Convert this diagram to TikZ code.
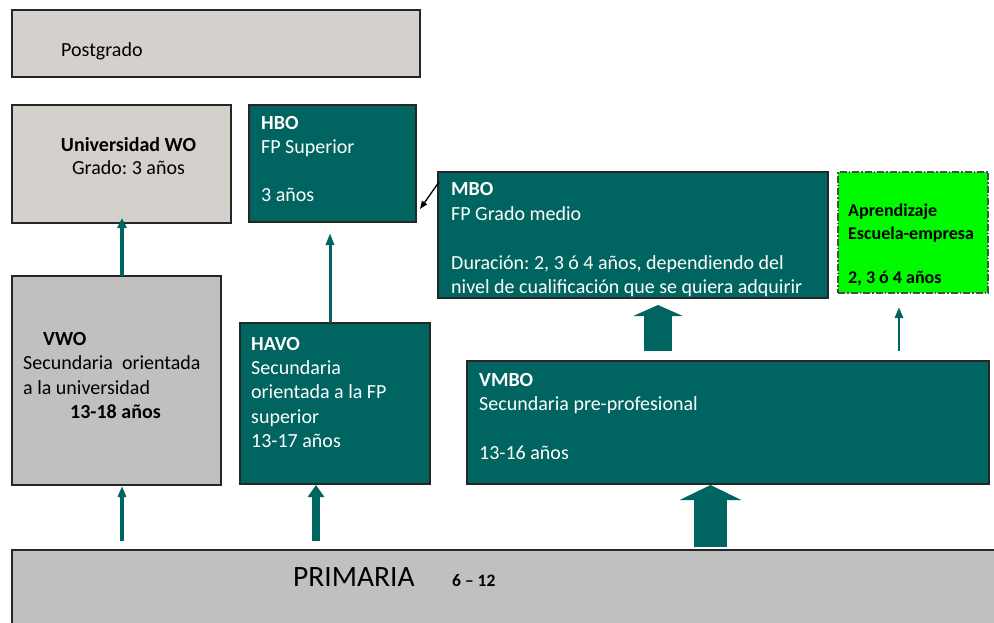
\documentclass[tikz,border=0pt]{standalone}
\usepackage{fontspec}
\setmainfont{Carlito}
\frenchspacing
\usetikzlibrary{arrows.meta}
\definecolor{teal}{RGB}{0,100,97}
\definecolor{lgray}{RGB}{212,208,204}
\definecolor{mgray}{RGB}{192,192,192}
\definecolor{lime}{RGB}{0,250,0}
\tikzset{
  boxbase/.style={draw=black!85, line width=1.1pt, anchor=north west, inner sep=0pt, outer sep=0pt},
  lbox/.style={boxbase, fill=lgray},
  gbox/.style={boxbase, fill=mgray},
  tbox/.style={boxbase, fill=teal},
  abox/.style={boxbase, fill=lime, draw=black!70, dash pattern=on 7pt off 2pt on 1.5pt off 2pt},
  txt/.style={anchor=base west, inner sep=0pt, font=\fontsize{20}{24}\selectfont},
  wtxt/.style={txt, text=white},
  btxt/.style={txt, font=\fontsize{20}{24}\selectfont\bfseries},
  wbtxt/.style={btxt, text=white},
  atxt/.style={anchor=base west, inner sep=0pt, font=\fontsize{18}{21}\selectfont\bfseries},
  thinarrow/.style={draw=teal, line width=3.2pt, -{Triangle[width=9pt,length=10pt]}},
  midarrow/.style={draw=teal, line width=8pt, -{Triangle[width=16pt,length=12pt]}},
}
\begin{document}
\begin{tikzpicture}[x=1pt,y=-1pt]
\useasboundingbox (0,0) rectangle (994,623);
\clip (0,0) rectangle (994,623);
% boxes
\node (pg) [lbox, minimum width=408pt, minimum height=67pt] at (12,10) {};
\node (wo) [lbox, minimum width=219pt, minimum height=118pt] at (12,105) {};
\node (hbo) [tbox, minimum width=167pt, minimum height=117pt] at (249,105) {};
\node (mbo) [tbox, minimum width=390pt, minimum height=126pt] at (438,172) {};
\node (app) [abox, minimum width=150pt, minimum height=121pt] at (838,172) {};
\node (vwo) [gbox, minimum width=209pt, minimum height=209pt] at (12,276) {};
\node (havo) [tbox, minimum width=190pt, minimum height=161pt] at (240,323) {};
\node (vmbo) [tbox, minimum width=522pt, minimum height=123pt] at (467,361) {};
\node (prim) [gbox, minimum width=1000pt, minimum height=90pt] at (12,550) {};
% texts
\node (t1) [txt] at (61,57) {Postgrado};
\node (t2) [btxt, anchor=base] at (128.5,152) {Universidad WO};
\node (t3) [txt, anchor=base] at (128.5,175) {Grado: 3 años};
\node (t4) [wbtxt] at (261,130) {HBO};
\node (t5) [wtxt] at (261,154) {FP Superior};
\node (t6) [wtxt] at (261,202) {3 años};
\node (t7) [wbtxt] at (451,196) {MBO};
\node (t8) [wtxt] at (451,220) {FP Grado medio};
\node (t9) [wtxt] at (451,269) {Duración: 2, 3 ó 4 años, dependiendo del};
\node (t10) [wtxt] at (451,293) {nivel de cualificación que se quiera adquirir};
\node (t11) [atxt] at (848,217) {Aprendizaje};
\node (t12) [atxt] at (848,239) {Escuela-empresa};
\node (t13) [atxt] at (848,283) {2, 3 ó 4 años};
\node (t14) [btxt] at (43,345) {VWO};
\node (t15) [txt] at (23,369) {Secundaria\ \ orientada};
\node (t16) [txt] at (23,394) {a la universidad};
\node (t17) [btxt] at (70,418) {13-18 años};
\node (t18) [wbtxt] at (251,350) {HAVO};
\node (t19) [wtxt] at (251,374) {Secundaria};
\node (t20) [wtxt] at (251,398) {orientada a la FP};
\node (t21) [wtxt] at (251,423) {superior};
\node (t22) [wtxt] at (251,447) {13-17 años};
\node (t23) [wbtxt] at (479,386) {VMBO};
\node (t24) [wtxt] at (479,410) {Secundaria pre-profesional};
\node (t25) [wtxt] at (479,459) {13-16 años};
\node (t26) [anchor=base west, inner sep=0pt, font=\fontsize{29.5}{34}\selectfont] at (293,586) {PRIMARIA};
\node (t27) [anchor=base west, inner sep=0pt, font=\fontsize{17.5}{20}\selectfont\bfseries] at (452,586) {6 – 12};
% connector end points
\coordinate (a1s) at (122,276);
\coordinate (a1e) at (122,218);
\coordinate (a2s) at (122,541);
\coordinate (a2e) at (122,486);
\coordinate (a3s) at (316,541);
\coordinate (a3e) at (316,485);
\coordinate (a4s) at (330,323);
\coordinate (a4e) at (330,233);
\coordinate (a5s) at (899,351);
\coordinate (a5e) at (899,307);
\coordinate (a6s) at (658,351);
\coordinate (a6e) at (658,305);
\coordinate (a7s) at (710.5,547);
\coordinate (a7e) at (710.5,485);
\coordinate (a8s) at (439,182);
\coordinate (a8e) at (420,209);
% connectors
\draw[thinarrow] (a1s) -- (a1e);
\draw[thinarrow, -{Triangle[width=8pt,length=11pt]}] (a2s) -- (a2e);
\draw[midarrow] (a3s) -- (a3e);
\draw[thinarrow, line width=3pt, -{Triangle[width=8pt,length=12pt]}] (a4s) -- (a4e);
\draw[thinarrow, line width=2.8pt, -{Triangle[width=8pt,length=11pt]}] (a5s) -- (a5e);
\draw[draw=teal, line width=28pt, -{Triangle[width=49pt,length=11pt]}] (a6s) -- (a6e);
\draw[draw=teal, line width=33pt, -{Triangle[width=61pt,length=15pt]}] (a7s) -- (a7e);
\draw[black, line width=1.3pt, -{Triangle[width=6pt,length=8pt]}] (a8s) -- (a8e);
\end{tikzpicture}
\end{document}
